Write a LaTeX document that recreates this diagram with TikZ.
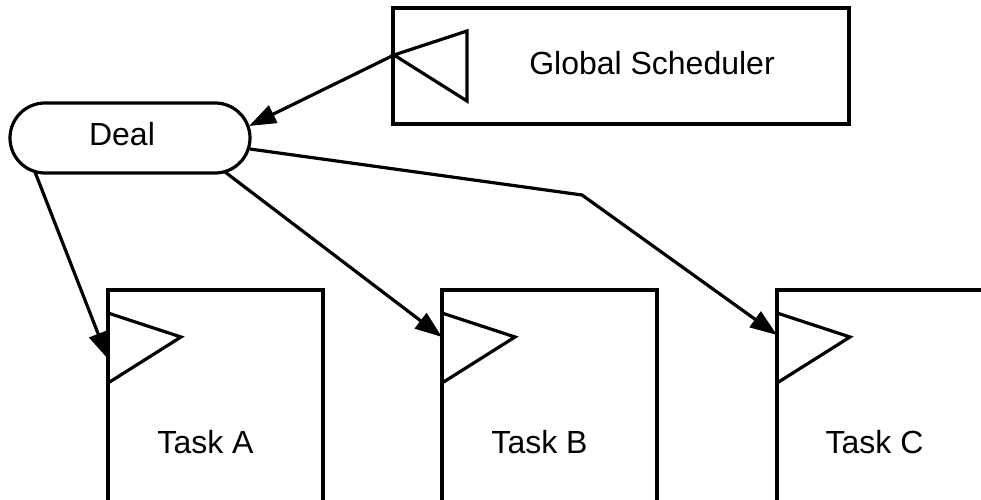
\documentclass[tikz,border=0pt]{standalone}
\usepackage{fontspec}
\setmainfont{Liberation Sans}
\usetikzlibrary{calc}
\usetikzlibrary{arrows.meta}
\usetikzlibrary{positioning}
\newcommand{\drawPort}[2]{
	\begin{scope}[shift={(#1)},xscale=#2]
		%Port triangle, base on the box edge
		\draw (0,0) -- (73,-24) -- (0,-70) -- cycle;
	\end{scope}
}

\begin{document}
\begin{tikzpicture}[x=1pt,y=1pt,line width=3.2pt]
		\tikzstyle{Box} = [draw=black, rectangle, inner sep=0pt, outer sep=0pt]
		\tikzstyle{Task} = [Box, minimum width=215pt, minimum height=240pt, anchor=north west]
		\tikzstyle{Label} = [font=\fontsize{32}{38}\selectfont]
		\tikzstyle{Flow} = [-{Triangle[length=27pt,width=19pt]}]

		\path[use as bounding box, clip] (0,0) rectangle (981,499);

		%Scheduler
		\node[Box, minimum width=456pt, minimum height=116pt] (GS) at (621,433){};
		\node[Label] (GSLabel) at ($(GS) + (31,3)$){Global Scheduler};
		\coordinate (GSPort) at ($(GS.north west) + (74,-23)$);
		\drawPort{GSPort}{-1}
		\coordinate (GSOut) at ($(GSPort) + (-73,-24)$);

		%Deal
		\node[Box, rounded corners=35pt, minimum width=240pt, minimum height=70pt] (Deal) at (130,361){};
		\node[Label] (DealLabel) at ($(Deal) + (-8,4)$){Deal};

		%Tasks
		\node[Task] (TaskA) at (108,209){};
		\node[Task, right=119pt of TaskA] (TaskB){};
		\node[Task, right=120pt of TaskB] (TaskC){};

		\foreach \t in {A,B,C}{
			\coordinate (\t Port) at ($(Task\t.north west) + (0,-23)$);
			\drawPort{\t Port}{1}
			\node[Label] (Task\t Label) at ($(Task\t.north) + (-10,-152)$){Task \t};
		}

		%Connectors
		\coordinate (DealIn) at ($(Deal.east) + (-1,12)$);
		\draw[Flow] (GSOut) -- (DealIn);

		\coordinate (DealA) at ($(Deal.south west) + (25,1)$);
		\coordinate (AIn) at ($(TaskA.north west) + (0,-69)$);
		\draw[Flow] (DealA) -- (AIn);

		\coordinate (DealB) at ($(Deal.south east) + (-25,1)$);
		\coordinate (BIn) at ($(TaskB.north west) + (0,-47)$);
		\draw[Flow] (DealB) -- (BIn);

		\coordinate (DealC) at ($(Deal.east) + (0,-11)$);
		\coordinate (Bend) at (582,304);
		\coordinate (CIn) at ($(TaskC.north west) + (0,-45)$);
		\draw[Flow] (DealC) -- (Bend) -- (CIn);
	\end{tikzpicture}
\end{document}
